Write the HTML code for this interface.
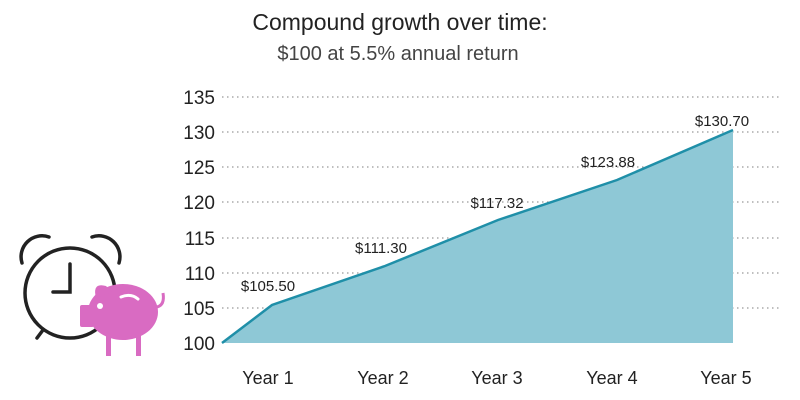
<!DOCTYPE html>
<html><head><style>
body{margin:0;background:#fff;}
svg{display:block;font-family:"Liberation Sans",sans-serif;}
</style></head><body>
<svg width="800" height="400" viewBox="0 0 800 400">
<text x="400" y="30" text-anchor="middle" font-size="23" fill="#222">Compound growth over time:</text>
<text x="398" y="60" text-anchor="middle" font-size="20" fill="#444">$100 at 5.5% annual return</text>
<g stroke="#999" stroke-width="1.3" stroke-dasharray="1.5 3.5">
<line x1="222" y1="97" x2="780" y2="97"/>
<line x1="222" y1="132" x2="780" y2="132"/>
<line x1="222" y1="167" x2="780" y2="167"/>
<line x1="222" y1="202" x2="780" y2="202"/>
<line x1="222" y1="238" x2="780" y2="238"/>
<line x1="222" y1="273" x2="780" y2="273"/>
<line x1="222" y1="308" x2="780" y2="308"/>
</g>
<g font-size="19" fill="#222" text-anchor="end">
<text x="215" y="104">135</text><text x="215" y="139">130</text><text x="215" y="174">125</text>
<text x="215" y="209">120</text><text x="215" y="245">115</text><text x="215" y="280">110</text>
<text x="215" y="315">105</text><text x="215" y="350">100</text>
</g>
<polygon points="222,343 272,305 385,266 498,220 617,180 733,130 733,343" fill="#8ec8d6"/>
<polyline points="222,343 272,305 385,266 498,220 617,180 733,130" fill="none" stroke="#1f8fa8" stroke-width="2.5"/>
<g font-size="15" fill="#222" text-anchor="middle">
<text x="268" y="291">$105.50</text><text x="381" y="253">$111.30</text>
<text x="497" y="208">$117.32</text><text x="608" y="167">$123.88</text><text x="722" y="126">$130.70</text>
</g>
<g font-size="18" fill="#222" text-anchor="middle">
<text x="268" y="384">Year 1</text><text x="383" y="384">Year 2</text><text x="497" y="384">Year 3</text>
<text x="612" y="384">Year 4</text><text x="726" y="384">Year 5</text>
</g>
<g fill="none" stroke="#222" stroke-width="3.5" stroke-linecap="round">
<circle cx="70" cy="293" r="45"/>
<path d="M22,263 A21,21 0 0 1 49,237"/>
<path d="M92,237 A21,21 0 0 1 119,263"/>
<path d="M70,264 V292 H53"/>
<path d="M43,330 L37,338"/>
</g>
<g fill="#d96bc2">
<ellipse cx="123" cy="312" rx="35" ry="28"/>
<path d="M96,298 Q92,282 106,286 L112,292 Z"/>
<rect x="80" y="305" width="14" height="22" rx="2"/>
<rect x="106" y="330" width="5" height="26"/>
<rect x="136" y="330" width="5" height="26"/>
<path d="M157,307 Q165,305 163,293" stroke="#d96bc2" stroke-width="3" fill="none"/>
</g>
<circle cx="100" cy="306" r="3" fill="#fff"/>
<path d="M121,297 Q131,293 138,299" stroke="#fff" stroke-width="3" fill="none" stroke-linecap="round"/>
</svg>
</body></html>
